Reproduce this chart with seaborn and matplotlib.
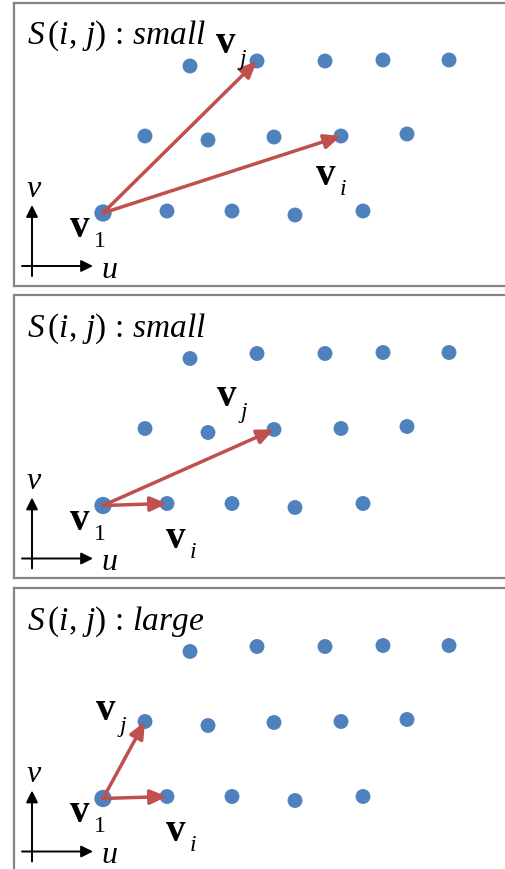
import numpy as np
import pandas as pd
import matplotlib
matplotlib.use('Agg')
import matplotlib.pyplot as plt
import seaborn as sns

# lattice of points in (u, v), v1 at the origin, v pointing up
top_u = [87, 154, 222, 280, 346]
top_v = [147, 152, 152, 153, 153]
mid_u = [42, 105, 171, 238, 304]
mid_v = [77, 73, 76, 77, 79]
bot_u = [0, 64, 129, 192, 260]
bot_v = [0, 2, 2, -2, 2]

titles = ['small', 'small', 'large']
# arrow targets per panel: (row, index) for v_i and v_j
vi_target = [('mid', 3), ('bot', 1), ('bot', 1)]
vj_target = [('top', 1), ('mid', 2), ('mid', 0)]
# label anchors (left, baseline) for v_i and v_j
vi_label = [(213, 29), (63, -41), (63, -42)]
vj_label = [(113, 161), (114, 100), (-7, 79)]

rows = {'top': (top_u, top_v), 'mid': (mid_u, mid_v), 'bot': (bot_u, bot_v)}
df = pd.DataFrame({
    'u': top_u + mid_u + bot_u,
    'v': top_v + mid_v + bot_v,
})
df['kind'] = ['other'] * (len(df) - 5) + ['origin'] + ['other'] * 4

sns.set_style('white')
plt.rcParams['font.family'] = ['Liberation Serif', 'DejaVu Serif']
plt.rcParams['text.color'] = 'black'
plt.rcParams['mathtext.fontset'] = 'custom'
plt.rcParams['mathtext.rm'] = 'Liberation Serif'
plt.rcParams['mathtext.it'] = 'Liberation Serif:italic'
plt.rcParams['mathtext.bf'] = 'Liberation Serif:bold'

W, H = 506, 870
fig = plt.figure(figsize=(W / 100, H / 100), dpi=100)
fig.patch.set_facecolor('white')

panel_tops = [3.5, 296, 589]
panel_h = 283
left_px, right_px = 14, 580
ox, oy = 103, 210.5

blue = '#4F81BD'
red = '#C0504D'

def label(ax, x, y, sub):
    ax.text(x, y, 'v', fontsize=28, fontweight='bold', color='black',
            va='baseline', ha='left', zorder=5)
    dy = -10 if sub != 'j' else -12
    ax.text(x + 24, y + dy, sub, fontsize=17, color='black',
            fontstyle='normal' if sub == '1' else 'italic',
            va='baseline', ha='left', zorder=5)

for k, top in enumerate(panel_tops):
    ax = fig.add_axes([left_px / W, 1 - (top + panel_h) / H, (right_px - left_px) / W, panel_h / H])
    ax.set_xlim(left_px - ox, right_px - ox)
    ax.set_ylim(oy - panel_h, oy)
    ax.set_xticks([])
    ax.set_yticks([])
    for sp in ax.spines.values():
        sp.set_visible(True)
        sp.set_color('#858585')
        sp.set_linewidth(1.6)

    sns.scatterplot(data=df, x='u', y='v', size='kind', sizes={'origin': 155, 'other': 115},
                    color=blue, edgecolor='none', legend=False, ax=ax, zorder=2)
    ax.set_xlabel('')
    ax.set_ylabel('')

    for tgt in (vi_target[k], vj_target[k]):
        ru, rv = rows[tgt[0]]
        ax.annotate('', xy=(ru[tgt[1]], rv[tgt[1]]), xytext=(0, 0),
                    arrowprops=dict(arrowstyle='-|>,head_length=0.5,head_width=0.22',
                                    mutation_scale=20, color=red, lw=2.5,
                                    shrinkA=0, shrinkB=0), zorder=4)

    ax.text(-76, 170, r'$S\,(i,\,j)\,:\,%s$' % titles[k], fontsize=24, color='black',
            va='baseline', ha='left')

    label(ax, vi_label[k][0], vi_label[k][1], 'i')
    label(ax, vj_label[k][0], vj_label[k][1], 'j')
    label(ax, -33, -23, '1')

    # u-v axis glyph
    ax.annotate('', xy=(-71, 8), xytext=(-71, -63),
                arrowprops=dict(arrowstyle='-|>,head_length=0.5,head_width=0.25',
                                mutation_scale=14, color='black', lw=1.4, shrinkA=0, shrinkB=0))
    ax.annotate('', xy=(-10, -53), xytext=(-81, -53),
                arrowprops=dict(arrowstyle='-|>,head_length=0.5,head_width=0.25',
                                mutation_scale=14, color='black', lw=1.4, shrinkA=0, shrinkB=0))
    ax.text(-76, 17, 'v', fontsize=23, fontstyle='italic', va='baseline', ha='left')
    ax.text(-2, -64, 'u', fontsize=23, fontstyle='italic', va='baseline', ha='left')

fig.savefig('out.png', dpi=100)
